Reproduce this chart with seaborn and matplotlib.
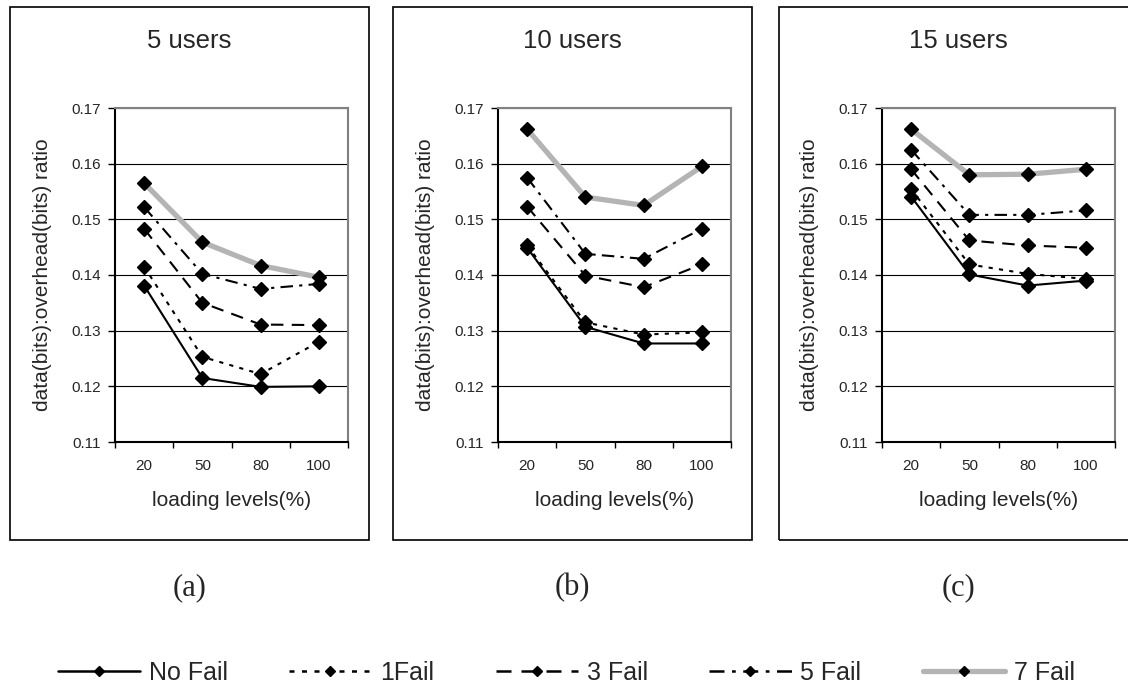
import numpy as np
import pandas as pd
import matplotlib
matplotlib.use("Agg")
import matplotlib.pyplot as plt
from matplotlib.lines import Line2D
from matplotlib.patches import Rectangle
import seaborn as sns

# ---------------- data ----------------
loads = ["20", "50", "80", "100"]
series_names = ["No Fail", "1Fail", "3 Fail", "5 Fail", "7 Fail"]
panel_titles = ["5 users", "10 users", "15 users"]
panel_tags = ["(a)", "(b)", "(c)"]
y_ticks = [0.11, 0.12, 0.13, 0.14, 0.15, 0.16, 0.17]
x_label = "loading levels(%)"
y_label = "data(bits):overhead(bits) ratio"

users5_no_fail = [0.1381, 0.1215, 0.1199, 0.1200]
users5_1fail = [0.1415, 0.1253, 0.1222, 0.1280]
users5_3fail = [0.1483, 0.1350, 0.1311, 0.1310]
users5_5fail = [0.1522, 0.1402, 0.1375, 0.1384]
users5_7fail = [0.1565, 0.1459, 0.1417, 0.1396]

users10_no_fail = [0.1449, 0.1307, 0.1277, 0.1277]
users10_1fail = [0.1453, 0.1315, 0.1293, 0.1297]
users10_3fail = [0.1523, 0.1399, 0.1378, 0.1419]
users10_5fail = [0.1575, 0.1438, 0.1429, 0.1483]
users10_7fail = [0.1662, 0.1540, 0.1525, 0.1595]

users15_no_fail = [0.1541, 0.1401, 0.1381, 0.1390]
users15_1fail = [0.1554, 0.1419, 0.1402, 0.1393]
users15_3fail = [0.1590, 0.1462, 0.1453, 0.1449]
users15_5fail = [0.1625, 0.1508, 0.1508, 0.1516]
users15_7fail = [0.1662, 0.1580, 0.1581, 0.1590]

panels = [
    [users5_no_fail, users5_1fail, users5_3fail, users5_5fail, users5_7fail],
    [users10_no_fail, users10_1fail, users10_3fail, users10_5fail, users10_7fail],
    [users15_no_fail, users15_1fail, users15_3fail, users15_5fail, users15_7fail],
]

# ---------------- style ----------------
sns.set_style("ticks")
plt.rcParams["font.family"] = ["Liberation Sans", "DejaVu Sans"]

line_styles = {
    "No Fail": dict(color="black", linestyle="-", lw=1.5),
    "1Fail": dict(color="black", linestyle=(0, (2, 3)), lw=1.5),
    "3 Fail": dict(color="black", linestyle=(0, (6, 4)), lw=1.5),
    "5 Fail": dict(color="black", linestyle=(0, (6, 3, 1.5, 3)), lw=1.5),
    "7 Fail": dict(color="#b4b4b4", linestyle="-", lw=3.8),
}

W, H = 1128, 689
fig = plt.figure(figsize=(W / 100, H / 100), dpi=100)

ax_lefts = [115, 498, 882]
ax_w, ax_top, ax_bot = 233, 108, 442
box_lefts = [10, 393, 779]
box_w, box_top, box_bot = 359, 7, 540

for i in range(3):
    # panel frame
    fig.add_artist(Rectangle((box_lefts[i] / W, 1 - box_bot / H), box_w / W,
                             (box_bot - box_top) / H, transform=fig.transFigure,
                             fill=False, ec="black", lw=1.2))
    cx = (box_lefts[i] + box_w / 2) / W
    fig.text(cx, 1 - 41 / H, panel_titles[i], ha="center", va="center",
             fontsize=18.5)
    fig.text(cx, 1 - 588 / H, panel_tags[i], ha="center", va="center",
             fontsize=22, family=["Liberation Serif", "DejaVu Serif"])

    ax = fig.add_axes([ax_lefts[i] / W, 1 - ax_bot / H, ax_w / W,
                       (ax_bot - ax_top) / H])
    for name, vals in zip(series_names, panels[i]):
        st = line_styles[name]
        df = pd.DataFrame({"load": loads, "ratio": vals})
        sns.pointplot(data=df, x="load", y="ratio", order=loads, ax=ax,
                      errorbar=None, color=st["color"], marker="D",
                      linestyle=st["linestyle"], linewidth=st["lw"],
                      markersize=7, markerfacecolor="black",
                      markeredgecolor="black", markeredgewidth=1,
                      legend=False)
    ax.set_xlim(-0.5, 3.5)
    ax.set_ylim(0.11, 0.17)
    ax.set_yticks(y_ticks, labels=[f"{v:.2f}" for v in y_ticks])
    ax.set_xticks(range(len(loads)), labels=loads)
    ax.set_xticks(np.arange(len(loads) + 1) - 0.5, minor=True)
    ax.tick_params(axis="x", which="major", length=0, pad=12, labelsize=11)
    ax.tick_params(axis="x", which="minor", length=4, width=1, direction="out",
                   color="black")
    ax.tick_params(axis="y", which="major", length=5, width=1, direction="out",
                   pad=5, labelsize=11, color="black")
    ax.yaxis.grid(True, color="black", lw=0.8)
    ax.xaxis.grid(False)
    ax.set_axisbelow(True)
    for s in ["left", "bottom"]:
        ax.spines[s].set_color("black")
        ax.spines[s].set_linewidth(1.5)
    for s in ["top", "right"]:
        ax.spines[s].set_visible(True)
        ax.spines[s].set_color("#808080")
        ax.spines[s].set_linewidth(1.5)
    ax.set_xlabel(x_label, fontsize=15)
    ax.set_ylabel(y_label, fontsize=15)
    ax.xaxis.set_label_coords(0.5, (ax_bot - 491) / (ax_bot - ax_top))
    ax.yaxis.set_label_coords(-63 / ax_w, 0.5)
    ax.patch.set_alpha(0)

# legend
handles = []
for name in series_names:
    st = line_styles[name]
    handles.append(Line2D([], [], color=st["color"], linestyle=st["linestyle"],
                          lw=st["lw"] if name == "7 Fail" else 1.8,
                          marker="D", markersize=5.5, markerfacecolor="black",
                          markeredgecolor="black"))
fig.legend(handles, series_names, loc="center", ncol=5,
           bbox_to_anchor=(0.502, 1 - 673 / H), frameon=False, fontsize=18,
           handlelength=3.3, handletextpad=0.35, columnspacing=2.45)

fig.savefig("out.png", dpi=100)
